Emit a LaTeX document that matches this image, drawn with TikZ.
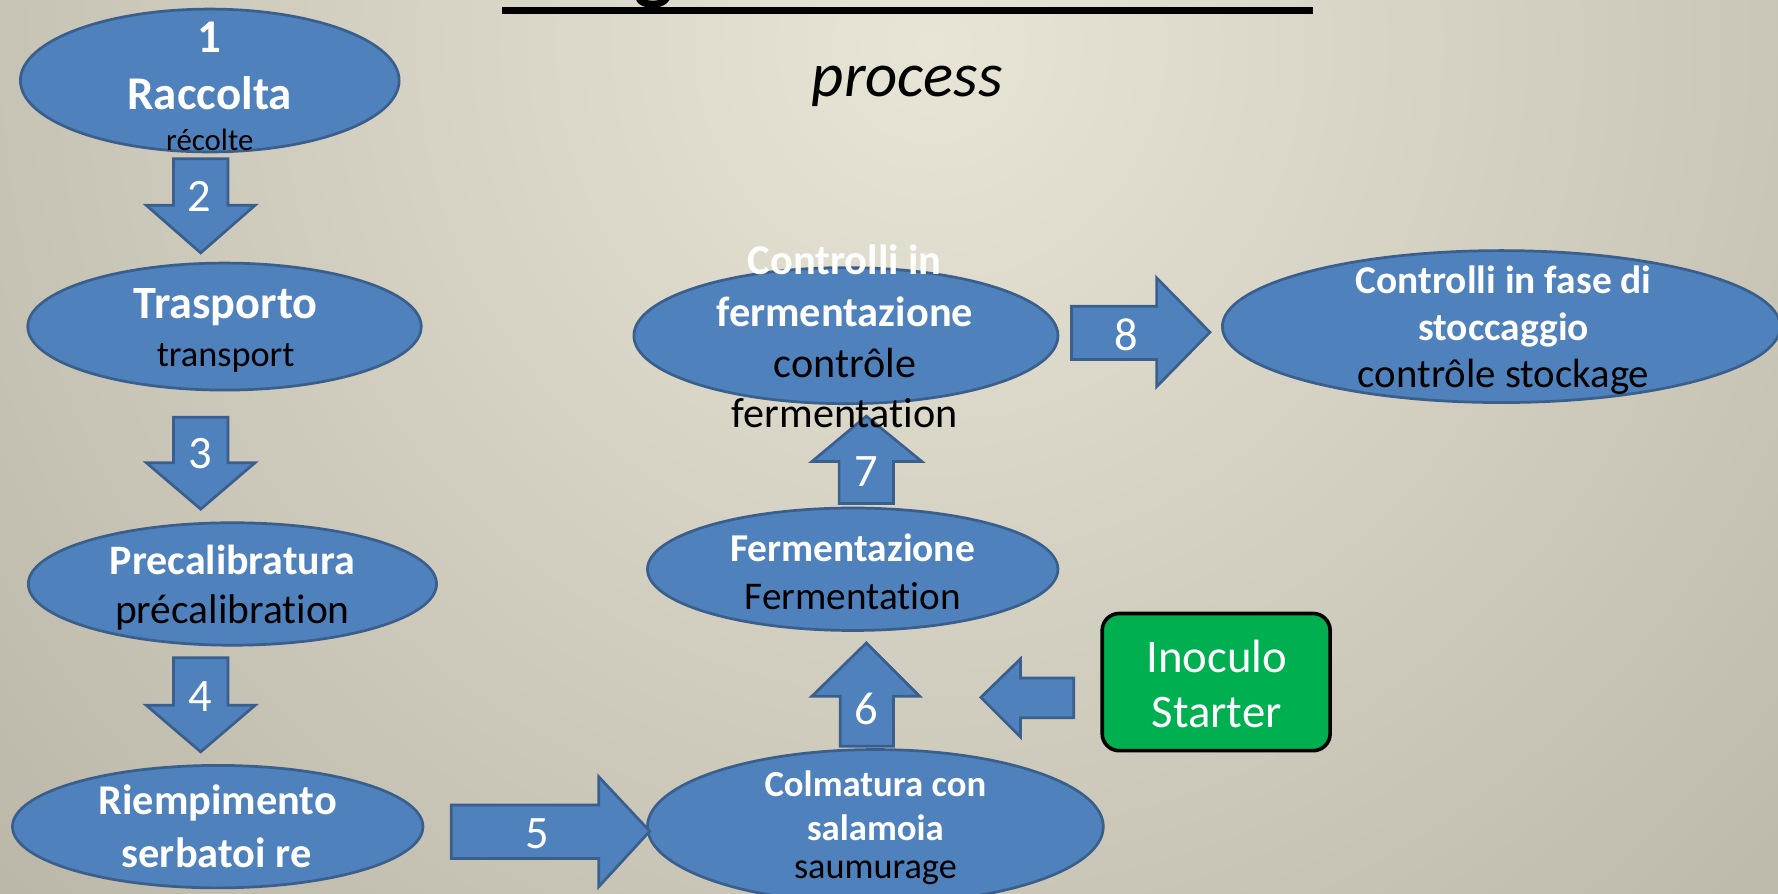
\documentclass[tikz,border=0pt]{standalone}
\usepackage{fontspec}
\setmainfont{Carlito}[Ligatures=NoCommon]
\usetikzlibrary{shapes.geometric}
\definecolor{boxblue}{HTML}{4F81BD}
\definecolor{boxedge}{HTML}{3A5F8C}
\definecolor{bginner}{HTML}{E8E5D6}
\definecolor{bgouter}{HTML}{8A8678}
\definecolor{startgreen}{HTML}{00B050}
\newcommand{\myfs}[1]{\fontsize{#1}{#1}\selectfont}
\begin{document}
\begin{tikzpicture}[x=0.5pt,y=-0.5pt,
  oval/.style={ellipse, draw=boxedge, fill=boxblue, line width=1.2pt, inner sep=0pt},
  barrow/.style={draw=boxedge, fill=boxblue, line width=1.2pt, line join=miter},
  startbox/.style={draw=black, fill=startgreen, line width=1.6pt, rounded corners=7.5pt, inner sep=0pt},
  wb/.style={text=white, inner sep=0pt},
  bk/.style={text=black, inner sep=0pt},
  num/.style={text=white, inner sep=0pt, font=\myfs{20.5}},
]
\useasboundingbox (0,0) rectangle (1568,788);
\begin{scope}
  \clip (0,0) rectangle (1568,788);
  \shade[inner color=bginner, outer color=bgouter] (820,40) circle (2300);
  % title remnant
  \node[anchor=base, inner sep=0pt, font=\myfs{36}\bfseries] (tg) at (577,-5) {g};
  \draw[line width=3pt] (443,9) -- (1158,9);
\end{scope}

\node[inner sep=0pt, font=\myfs{27.7}\itshape, anchor=base] (proc) at (800,85) {process};

% ellipses
\node[oval, minimum width=334pt*0.5, minimum height=126pt*0.5] (e1) at (185,71) {};
\node[oval, minimum width=347pt*0.5, minimum height=112pt*0.5] (e2) at (198,288) {};
\node[oval, minimum width=360pt*0.5, minimum height=108pt*0.5] (e3) at (205,515) {};
\node[oval, minimum width=362pt*0.5, minimum height=108pt*0.5] (e4) at (192,729) {};
\node[oval, minimum width=402pt*0.5, minimum height=136pt*0.5] (e5) at (772,729) {};
\node[oval, minimum width=362pt*0.5, minimum height=108pt*0.5] (e6) at (752,502) {};
\node[oval, minimum width=374pt*0.5, minimum height=120pt*0.5] (e7) at (746,296) {};
\node[oval, minimum width=492pt*0.5, minimum height=134pt*0.5] (e8) at (1324,288) {};

\node[startbox, minimum width=201pt*0.5, minimum height=121pt*0.5] (ino) at (1072.5,601.5) {};

% block arrows
\draw[barrow] (153,140) -- (201,140) -- (201,181) -- (225,181) -- (177,223) -- (129,181) -- (153,181) -- cycle;
\draw[barrow] (153,368) -- (201,368) -- (201,408) -- (225,408) -- (177,449) -- (129,408) -- (153,408) -- cycle;
\draw[barrow] (153,580) -- (201,580) -- (201,622) -- (225,622) -- (177,663) -- (129,622) -- (153,622) -- cycle;
\draw[barrow] (398,710) -- (528,710) -- (528,685) -- (573,733) -- (528,782) -- (528,757) -- (398,757) -- cycle;
\draw[barrow] (741,658) -- (741,614) -- (716,614) -- (764,567) -- (811,614) -- (788,614) -- (788,658) -- cycle;
\draw[barrow] (740,444) -- (740,407) -- (716,407) -- (764,367) -- (813,407) -- (788,407) -- (788,444) -- cycle;
\draw[barrow] (945,270) -- (1020,270) -- (1020,245) -- (1067,293) -- (1020,341) -- (1020,317) -- (945,317) -- cycle;
\draw[barrow] (947,598) -- (900,598) -- (900,581) -- (865,615) -- (900,650) -- (900,633) -- (947,633) -- cycle;

% arrow numbers
\node[num] (n2) at (176,173) {2};
\node[num] (n3) at (177,400) {3};
\node[num] (n4) at (177,614) {4};
\node[num] (n5) at (474,735) {5};
\node[num] (n6) at (764,625) {6};
\node[num] (n7) at (764,416) {7};
\node[num] (n8) at (993,295) {8};

% texts
\node[wb, font=\myfs{20.7}\bfseries] (t1n) at (185,33) {1};
\node[wb, font=\myfs{20.7}\bfseries] (t1a) at (185,82) {Raccolta};
\node[bk, font=\myfs{13.6}] (t1b) at (185,123) {récolte};

\node[wb, font=\myfs{20.4}\bfseries] (t2a) at (199,271) {Trasporto};
\node[bk, font=\myfs{16}] (t2b) at (199,316) {transport};

\node[wb, font=\myfs{18.5}\bfseries] (t3a) at (205,494) {Precalibratura};
\node[bk, font=\myfs{18.3}] (t3b) at (205,540) {précalibration};

\node[wb, font=\myfs{18.7}\bfseries] (t4a) at (192,708) {Riempimento};
\node[wb, font=\myfs{18.7}\bfseries] (t4b) at (191,752) {serbatoi re};

\node[wb, font=\myfs{16.2}\bfseries] (t5a) at (772,691) {Colmatura con};
\node[wb, font=\myfs{16.2}\bfseries] (t5b) at (772,730) {salamoia};
\node[bk, font=\myfs{16}] (t5c) at (772,770) {saumurage};

\node[wb, font=\myfs{17.4}\bfseries] (t6a) at (752,483) {Fermentazione};
\node[bk, font=\myfs{17.3}] (t6b) at (752,526) {Fermentation};

\node[wb, font=\myfs{18.7}\bfseries] (t7a) at (745,229) {Controlli in};
\node[wb, font=\myfs{18.7}\bfseries] (t7b) at (745,275) {fermentazione};
\node[bk, font=\myfs{18.6}] (t7c) at (745,320) {contrôle};
\node[bk, font=\myfs{18.6}] (t7d) at (745,364) {fermentation};

\node[wb, font=\myfs{17.4}\bfseries] (t8a) at (1326,247) {Controlli in fase di};
\node[wb, font=\myfs{17.4}\bfseries] (t8b) at (1326,291) {stoccaggio};
\node[bk, font=\myfs{18}] (t8c) at (1326,332) {contrôle stockage};

\node[wb, font=\myfs{20.6}] (tin1) at (1073,579) {Inoculo};
\node[wb, font=\myfs{20.6}] (tin2) at (1073,628) {Starter};
\end{tikzpicture}
\end{document}
